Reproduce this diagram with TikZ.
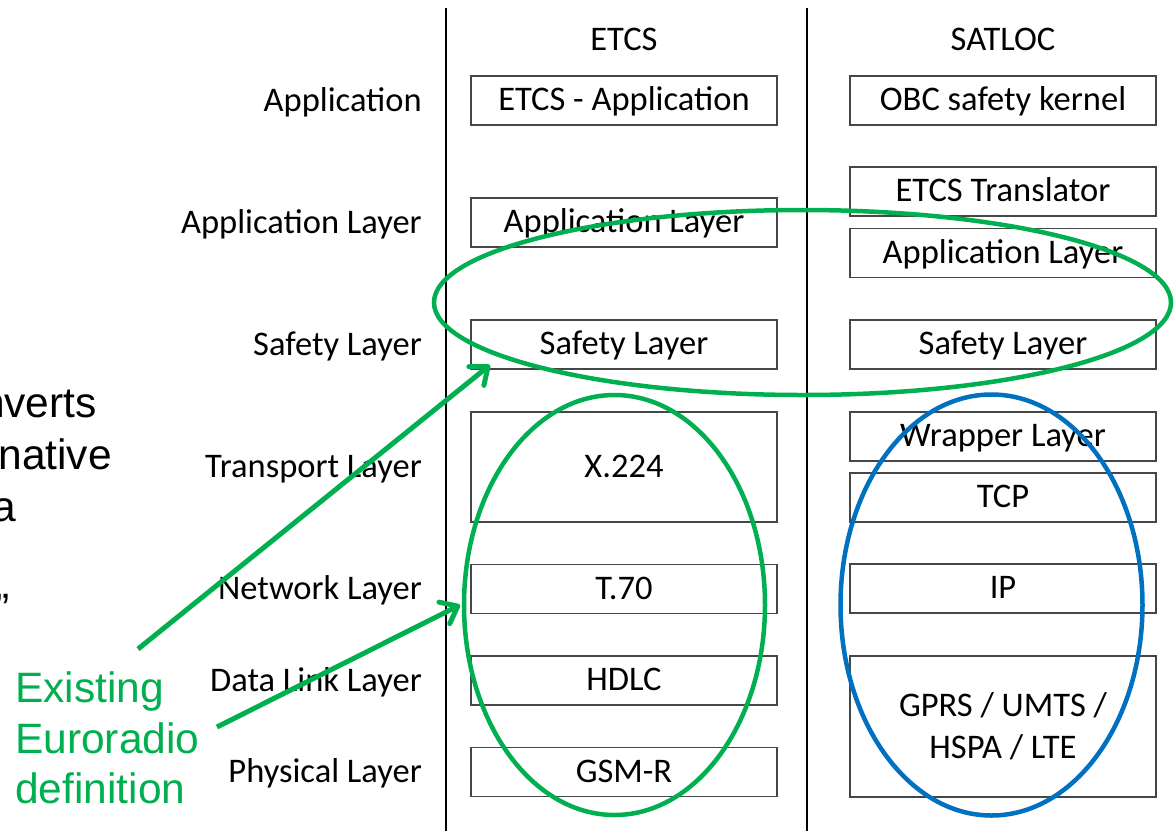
\documentclass[tikz,border=0pt]{standalone}
\usepackage{fontspec}
\usetikzlibrary{arrows.meta,shapes.geometric}
\newfontfamily\layerfont{Carlito}
\newfontfamily\notefont{Liberation Sans}
\definecolor{ringgreen}{RGB}{0,176,80}
\definecolor{ringblue}{RGB}{0,112,192}
\definecolor{boxgray}{RGB}{70,70,70}
\tikzset{
  layertext/.style={font=\layerfont\fontsize{34.5pt}{42pt}\selectfont, inner sep=0pt,
    text height=24pt, text depth=4pt},
  layerbox/.style={layertext, draw=boxgray, line width=1.2pt,
    minimum width=306pt, minimum height=49pt},
  rowlabel/.style={layertext, anchor=east},
  divider/.style={line width=2pt, black},
  ringg/.style={ellipse, draw=ringgreen, line width=4.5pt, inner sep=0pt},
  ringb/.style={ellipse, draw=ringblue, line width=4.5pt, inner sep=0pt},
  pointer/.style={ringgreen, line width=5pt,
    -{Straight Barb[length=15pt,width=24pt,line cap=round,line join=round]}},
  bigtext/.style={font=\notefont\fontsize{42.5pt}{50.5pt}\selectfont, inner sep=0pt}
}
\begin{document}
\begin{tikzpicture}[x=1pt,y=-1pt]
\useasboundingbox (0,0) rectangle (1176,831);
\clip (0,0) rectangle (1176,831);
\fill[white] (0,0) rectangle (1176,831);

% column dividers
\coordinate (d1t) at (446,8);   \coordinate (d1b) at (446,831);
\coordinate (d2t) at (807,8);   \coordinate (d2b) at (807,831);
\draw[divider] (d1t) -- (d1b);
\draw[divider] (d2t) -- (d2b);

% column headings
\node[layertext] (hetcs) at (624,40.5) {ETCS};
\node[layertext] (hsat) at (1003,40.5) {SATLOC};

% row labels
\node[rowlabel] (lapp) at (422,101) {Application};
\node[rowlabel] (lal)  at (422,223) {Application Layer};
\node[rowlabel] (lsl)  at (422,345) {Safety Layer};
\node[rowlabel] (ltl)  at (422,467.5) {Transport Layer};
\node[rowlabel] (lnl)  at (422,589.5) {Network Layer};
\node[rowlabel] (ldl)  at (422,681) {Data Link Layer};
\node[rowlabel] (lpl)  at (422,772.5) {Physical Layer};

% ETCS stack
\node[layerbox] (eapp) at (624,100.5) {ETCS - Application};
\node[layerbox] (eal)  at (624,222.5) {Application Layer};
\node[layerbox] (esl)  at (624,344.5) {Safety Layer};
\node[layerbox, minimum height=110pt] (ex) at (624,467) {X.224};
\node[layerbox] (et)   at (624,589)   {T.70};
\node[layerbox] (eh)   at (624,680.5) {HDLC};
\node[layerbox] (eg)   at (624,772)   {GSM-R};

% SATLOC stack
\node[layerbox] (sobc) at (1003,100.5) {OBC safety kernel};
\node[layerbox] (str)  at (1003,191.5) {ETCS Translator};
\node[layerbox] (sal)  at (1003,253)   {Application Layer};
\node[layerbox] (ssl)  at (1003,344.5) {Safety Layer};
\node[layerbox] (swr)  at (1003,436.5) {Wrapper Layer};
\node[layerbox] (stcp) at (1003,497.5) {TCP};
\node[layerbox] (sip)  at (1003,588.5) {IP};
\node[layerbox, minimum height=141pt, align=center, text height=, text depth=]
  (sgp) at (1003,726.5) {GPRS / UMTS /\\HSPA / LTE};

% side notes
\node[bigtext, anchor=base east] (n1) at (97,417)  {converts};
\node[bigtext, anchor=base east] (n2) at (112,469) {alternative};
\node[bigtext, anchor=base east] (n3) at (16,521)  {via};
\node[bigtext, anchor=base east] (n4) at (10,623)  {”};
\node[bigtext, anchor=north west, align=left, text=ringgreen] (euro) at (15,671.5)
  {Existing\\Euroradio\\definition};

% highlight rings
\node[ringg, minimum width=737pt, minimum height=185pt] (safering) at (802.5,302.5) {};
\node[ringg, minimum width=301pt, minimum height=420pt] (etcsring) at (614.5,605) {};
\node[ringb, minimum width=302pt, minimum height=421pt] (satring) at (991.5,605) {};

% pointers
\coordinate (p1s) at (138,649);  \coordinate (p1e) at (490,365);
\coordinate (p2s) at (217,727);  \coordinate (p2e) at (460,605);
\draw[pointer] (p1s) -- (p1e);
\draw[pointer] (p2s) -- (p2e);
\end{tikzpicture}
\end{document}
